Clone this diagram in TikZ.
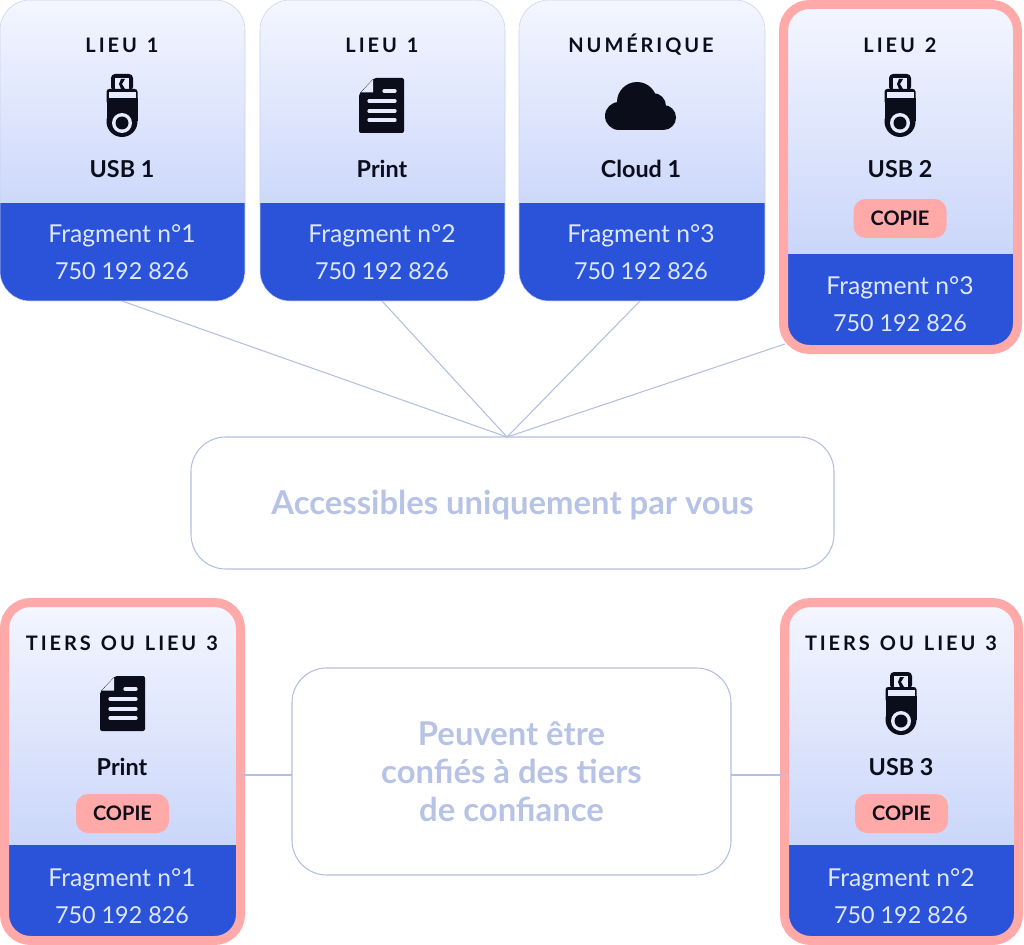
\documentclass[tikz,border=0pt]{standalone}
\usepackage{fontspec}
\usetikzlibrary{calc}
\setmainfont{Lato}
\newfontfamily\headfont[LetterSpace=14.5,WordSpace=1.3]{Lato}
\definecolor{ink}{HTML}{0B0D1A}
\definecolor{bandblue}{HTML}{2B53D9}
\definecolor{pinkc}{HTML}{FFA9A9}
\definecolor{gradtop}{HTML}{F4F6FF}
\definecolor{gradbot}{HTML}{BACAF8}
\definecolor{bandtext}{HTML}{DDE7FF}
\definecolor{softtext}{HTML}{B7C3E6}
\definecolor{softline}{HTML}{B3BFE0}
\definecolor{iconlight}{HTML}{E6EBFD}
\tikzset{
  x=0.75pt,y=-0.75pt,
  cardbox/.style={rectangle,outer sep=0pt,inner sep=0pt,rounded corners=22.5pt},
  plain/.style={cardbox,draw=softline!70,line width=0.4pt},
  copied/.style={cardbox,draw=pinkc,line width=6.75pt,rounded corners=19.5pt},
  headtext/.style={font=\headfont\bfseries\fontsize{15}{18}\selectfont,text=ink,inner sep=0pt},
  labeltext/.style={font=\bfseries\fontsize{17.5}{20}\selectfont,text=ink,inner sep=0pt},
  bandlabel/.style={font=\fontsize{18.5}{21}\selectfont,text=bandtext,inner sep=0pt},
  bandnum/.style={font=\fontsize{17.5}{21}\selectfont,text=bandtext,inner sep=0pt},
  copypill/.style={fill=pinkc,rounded corners=9pt,minimum width=69.75pt,minimum height=29.25pt,inner sep=0pt,
     font=\bfseries\fontsize{15}{18}\selectfont,text=ink},
  softbox/.style={draw=softline,line width=0.8pt,rounded corners=26pt,outer sep=0pt,inner sep=0pt,
     align=center,text=softtext,font=\bfseries\fontsize{24.6}{28.5}\selectfont},
  wire/.style={draw=softline,line width=0.8pt},
}
% name, cx, cy, w, h, band height, style
\newcommand\cardshape[7]{%
  \node[#7,minimum width=#4*0.75pt,minimum height=#5*0.75pt,
    path picture={
      \shade[sharp corners,top color=gradtop,bottom color=gradbot]
        (path picture bounding box.north west) rectangle ($(path picture bounding box.south east)+(0,-#6)$);
      \fill[sharp corners,bandblue]
        ($(path picture bounding box.south west)+(0,-#6)$) rectangle (path picture bounding box.south east);
    }] (#1) at (#2,#3) {};}
% name, cx, head y, label, label y, frag, frag y, head
\newcommand\cardtext[8]{%
  \node[headtext] (#1-head) at (#2,#3) {#8};
  \node[labeltext] (#1-label) at (#2,#5) {#4};
  \node[bandlabel] (#1-frag) at (#2,#7) {#6};
  \node[bandnum] (#1-num) at (#2,#7+35.5) {750 192 826};}
\newcommand\usbicon[2]{%
  \begin{scope}[shift={(#1,#2)}]
    \fill[ink,rounded corners=3pt] (-11,0) rectangle (11,17);
    \fill[iconlight] (-7,4) rectangle (7,16);
    \fill[ink] (-1,5) -- (3,5) -- (0,10) -- (3,15) -- (-1,15) -- (-3,10) -- cycle;
    \fill[ink,rounded corners=2pt] (-15.5,15) rectangle (15.5,30);
    \fill[ink] (-15.5,24) rectangle (15.5,47.5);
    \fill[ink] (0,47.5) circle[radius=15.5];
    \fill[iconlight] (-13.5,18) rectangle (13.5,24);
    \fill[iconlight] (0,49) circle[radius=10];
    \fill[ink] (0,49) circle[radius=6.5];
  \end{scope}}
\newcommand\printicon[2]{%
  \begin{scope}[shift={(#1,#2)}]
    \fill[ink,rounded corners=1.5pt] (0,16) -- (15,0) -- (45,0) -- (45,55) -- (0,55) -- cycle;
    \fill[iconlight] (2,14.5) -- (14,1.5) -- (14,14.5) -- cycle;
    \draw[iconlight,line width=2.4pt,line cap=round] (25,13) -- (36,13) (10,23) -- (36,23) (10,33) -- (36,33) (10,42) -- (36,42);
  \end{scope}}
\newcommand\cloudicon[2]{%
  \begin{scope}[shift={(#1,#2)}]
    \fill[ink] (32,20) circle[radius=20] (14,34) circle[radius=14] (48,24) circle[radius=13]
      (58.5,35.5) circle[radius=12.5];
    \fill[ink] (14,26) rectangle (58,48);
  \end{scope}}
\begin{document}
\begin{tikzpicture}
\useasboundingbox (0,0) rectangle (1024,945);
\node[softbox,minimum width=643*0.75pt,minimum height=132*0.75pt] (acc) at (512.5,503) {\raisebox{0pt}[\dimexpr\height+3pt\relax][\depth]{Accessibles uniquement par vous}};
\node[softbox,minimum width=439*0.75pt,minimum height=207*0.75pt] (tiers) at (511.5,771.5) {Peuvent être\\confiés à des tiers\\de confiance};
\coordinate (apex) at (507,437);
\coordinate (wl) at (292,775);
\coordinate (wr) at (731,775);
\coordinate (c1foot) at (122,301);
\coordinate (c2foot) at (382,301);
\coordinate (c3foot) at (640,301);
\coordinate (c4foot) at (785,344);
\draw[wire] (c1foot) -- (apex);
\draw[wire] (c2foot) -- (apex);
\draw[wire] (c3foot) -- (apex);
\draw[wire] (c4foot) -- (apex);
\cardshape{c1}{122.5}{150.5}{245}{301}{98}{plain}
\cardshape{c2}{382.5}{150.5}{245}{301}{98}{plain}
\cardshape{c3}{642}{150.5}{246}{301}{98}{plain}
\cardshape{c4}{900.5}{177}{234}{345}{95.5}{copied}
\cardshape{c5}{122.5}{771.5}{236}{338}{95.5}{copied}
\cardshape{c6}{901.5}{771.5}{234}{338}{95.5}{copied}
\draw[wire] (wl) -- (wl -| c5.east);
\draw[wire] (wr) -- (wr -| c6.west);
\cardtext{c1}{122}{45}{USB 1}{169}{Fragment n°1}{235.5}{LIEU 1}
\cardtext{c2}{382}{45}{Print}{169}{Fragment n°2}{235.5}{LIEU 1}
\cardtext{c3}{641}{45}{Cloud 1}{169}{Fragment n°3}{235.5}{NUMÉRIQUE}
\cardtext{c4}{900}{45}{USB 2}{169}{Fragment n°3}{287.5}{LIEU 2}
\cardtext{c5}{122}{643}{Print}{767}{Fragment n°1}{879.5}{TIERS OU LIEU 3}
\cardtext{c6}{901}{643}{USB 3}{767}{Fragment n°2}{879.5}{TIERS OU LIEU 3}
\node[copypill] (c4-copy) at (900,218.5) {COPIE};
\node[copypill] (c5-copy) at (122.5,813.5) {COPIE};
\node[copypill] (c6-copy) at (901.5,813.5) {COPIE};
\usbicon{122}{74}
\printicon{359}{78}
\cloudicon{605}{82}
\usbicon{900}{74}
\printicon{100}{676}
\usbicon{901}{672}
\end{tikzpicture}
\end{document}
